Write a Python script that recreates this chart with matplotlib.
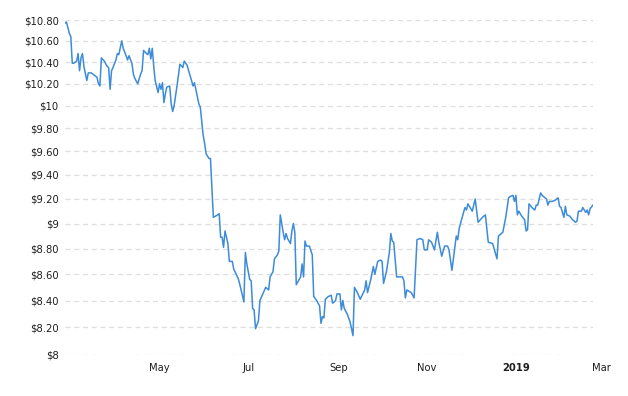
import matplotlib
matplotlib.use("Agg")
import matplotlib.pyplot as plt
import matplotlib.dates as mdates
import matplotlib.ticker as mticker
import pandas as pd

dates = [
    "2018-02-25", "2018-02-26", "2018-02-28", "2018-03-01", "2018-03-02", "2018-03-03",
    "2018-03-04", "2018-03-05", "2018-03-06", "2018-03-07", "2018-03-08", "2018-03-09",
    "2018-03-10", "2018-03-12", "2018-03-13", "2018-03-15", "2018-03-17", "2018-03-19",
    "2018-03-20", "2018-03-21", "2018-03-22", "2018-03-24", "2018-03-26", "2018-03-27",
    "2018-03-28", "2018-03-29", "2018-03-30", "2018-04-01", "2018-04-02", "2018-04-03",
    "2018-04-05", "2018-04-06", "2018-04-08", "2018-04-09", "2018-04-10", "2018-04-12",
    "2018-04-13", "2018-04-14", "2018-04-16", "2018-04-18", "2018-04-19", "2018-04-20",
    "2018-04-22", "2018-04-23", "2018-04-24", "2018-04-25", "2018-04-26", "2018-04-27",
    "2018-04-28", "2018-04-30", "2018-05-01", "2018-05-02", "2018-05-03", "2018-05-04",
    "2018-05-05", "2018-05-06", "2018-05-08", "2018-05-09", "2018-05-10", "2018-05-11",
    "2018-05-13", "2018-05-15", "2018-05-17", "2018-05-18", "2018-05-20", "2018-05-21",
    "2018-05-23", "2018-05-24", "2018-05-25", "2018-05-27", "2018-05-28", "2018-05-29",
    "2018-05-31", "2018-06-01", "2018-06-02", "2018-06-04", "2018-06-05", "2018-06-07",
    "2018-06-10", "2018-06-11", "2018-06-12", "2018-06-13", "2018-06-14", "2018-06-15",
    "2018-06-17", "2018-06-18", "2018-06-20", "2018-06-21", "2018-06-24", "2018-06-25",
    "2018-06-28", "2018-06-29", "2018-06-30", "2018-07-02", "2018-07-03", "2018-07-04",
    "2018-07-05", "2018-07-06", "2018-07-08", "2018-07-09", "2018-07-11", "2018-07-13",
    "2018-07-14", "2018-07-15", "2018-07-16", "2018-07-18", "2018-07-19", "2018-07-21",
    "2018-07-22", "2018-07-23", "2018-07-25", "2018-07-26", "2018-07-27", "2018-07-28",
    "2018-07-30", "2018-07-31", "2018-08-01", "2018-08-02", "2018-08-03", "2018-08-04",
    "2018-08-06", "2018-08-07", "2018-08-08", "2018-08-09", "2018-08-10", "2018-08-11",
    "2018-08-12", "2018-08-14", "2018-08-15", "2018-08-17", "2018-08-19", "2018-08-20",
    "2018-08-21", "2018-08-22", "2018-08-23", "2018-08-25", "2018-08-27", "2018-08-28",
    "2018-08-30", "2018-08-31", "2018-09-02", "2018-09-03", "2018-09-04", "2018-09-05",
    "2018-09-07", "2018-09-09", "2018-09-11", "2018-09-12", "2018-09-14", "2018-09-16",
    "2018-09-19", "2018-09-20", "2018-09-21", "2018-09-23", "2018-09-25", "2018-09-26",
    "2018-09-28", "2018-09-30", "2018-10-01", "2018-10-02", "2018-10-04", "2018-10-06",
    "2018-10-07", "2018-10-08", "2018-10-09", "2018-10-11", "2018-10-13", "2018-10-15",
    "2018-10-16", "2018-10-17", "2018-10-18", "2018-10-21", "2018-10-23", "2018-10-25",
    "2018-10-27", "2018-10-29", "2018-10-30", "2018-11-01", "2018-11-02", "2018-11-04",
    "2018-11-06", "2018-11-08", "2018-11-09", "2018-11-11", "2018-11-13", "2018-11-15",
    "2018-11-16", "2018-11-18", "2018-11-21", "2018-11-22", "2018-11-23", "2018-11-26",
    "2018-11-27", "2018-11-28", "2018-11-29", "2018-12-01", "2018-12-02", "2018-12-04",
    "2018-12-06", "2018-12-09", "2018-12-11", "2018-12-13", "2018-12-16", "2018-12-19",
    "2018-12-20", "2018-12-23", "2018-12-25", "2018-12-27", "2018-12-28", "2018-12-30",
    "2018-12-31", "2019-01-01", "2019-01-02", "2019-01-03", "2019-01-05", "2019-01-07",
    "2019-01-08", "2019-01-09", "2019-01-10", "2019-01-12", "2019-01-14", "2019-01-15",
    "2019-01-16", "2019-01-18", "2019-01-19", "2019-01-20", "2019-01-22", "2019-01-23",
    "2019-01-24", "2019-01-26", "2019-01-28", "2019-01-30", "2019-01-31", "2019-02-01",
    "2019-02-02", "2019-02-03", "2019-02-04", "2019-02-05", "2019-02-07", "2019-02-09",
    "2019-02-11", "2019-02-12", "2019-02-13", "2019-02-15", "2019-02-16", "2019-02-18",
    "2019-02-19", "2019-02-20", "2019-02-21", "2019-02-23",
]

prices = [
    10.77, 10.78, 10.67, 10.64, 10.39, 10.39,
    10.40, 10.41, 10.48, 10.32, 10.44, 10.48,
    10.36, 10.23, 10.30, 10.30, 10.28, 10.26,
    10.20, 10.18, 10.44, 10.41, 10.36, 10.35,
    10.15, 10.32, 10.35, 10.42, 10.48, 10.47,
    10.60, 10.53, 10.46, 10.42, 10.46, 10.39,
    10.29, 10.25, 10.20, 10.29, 10.32, 10.51,
    10.48, 10.47, 10.53, 10.43, 10.53, 10.36,
    10.23, 10.12, 10.20, 10.15, 10.21, 10.03,
    10.11, 10.17, 10.18, 10.02, 9.95, 10.00,
    10.18, 10.38, 10.35, 10.41, 10.37, 10.32,
    10.23, 10.18, 10.21, 10.08, 10.02, 9.99,
    9.74, 9.67, 9.58, 9.54, 9.54, 9.05,
    9.07, 9.08, 8.89, 8.89, 8.81, 8.94,
    8.84, 8.70, 8.70, 8.64, 8.57, 8.53,
    8.39, 8.77, 8.68, 8.56, 8.55, 8.34,
    8.33, 8.19, 8.25, 8.40, 8.45, 8.50,
    8.49, 8.48, 8.58, 8.62, 8.72, 8.75,
    8.78, 9.07, 8.93, 8.87, 8.92, 8.88,
    8.84, 8.94, 9.00, 8.93, 8.52, 8.54,
    8.58, 8.68, 8.58, 8.86, 8.82, 8.82,
    8.82, 8.75, 8.43, 8.40, 8.36, 8.23,
    8.28, 8.27, 8.41, 8.43, 8.44, 8.38,
    8.40, 8.45, 8.45, 8.33, 8.40, 8.34,
    8.30, 8.24, 8.14, 8.50, 8.46, 8.41,
    8.48, 8.55, 8.46, 8.55, 8.66, 8.60,
    8.70, 8.71, 8.70, 8.53, 8.62, 8.77,
    8.92, 8.86, 8.85, 8.58, 8.58, 8.58,
    8.55, 8.42, 8.48, 8.46, 8.42, 8.87,
    8.88, 8.87, 8.79, 8.79, 8.87, 8.85,
    8.79, 8.93, 8.85, 8.74, 8.82, 8.82,
    8.79, 8.63, 8.90, 8.87, 8.96, 9.09,
    9.13, 9.11, 9.16, 9.12, 9.10, 9.20,
    9.01, 9.05, 9.07, 8.85, 8.84, 8.72,
    8.90, 8.93, 9.05, 9.21, 9.22, 9.23,
    9.18, 9.23, 9.07, 9.10, 9.06, 9.03,
    8.94, 8.95, 9.16, 9.13, 9.11, 9.15,
    9.15, 9.25, 9.23, 9.22, 9.20, 9.15,
    9.18, 9.18, 9.19, 9.21, 9.14, 9.13,
    9.09, 9.05, 9.14, 9.07, 9.06, 9.03,
    9.01, 9.02, 9.10, 9.10, 9.13, 9.09,
    9.11, 9.07, 9.12, 9.15,
]

y_ticks = [8.0, 8.2, 8.4, 8.6, 8.8, 9.0, 9.2, 9.4, 9.6, 9.8, 10.0, 10.2, 10.4, 10.6, 10.8]
x_tick_dates = ["2018-05-01", "2018-07-01", "2018-09-01", "2018-11-01", "2019-01-01"]
x_tick_labels = ["May", "Jul", "Sep", "Nov", "2019"]
extra_tick_date = "2019-03-01"
extra_tick_label = "Mar"

FS = 7.2
TXT = "#1e1e1e"

x = pd.to_datetime(dates)

fig = plt.figure(figsize=(6.28, 3.96), dpi=100)
ax = fig.add_axes([65 / 628, 1 - 355 / 396, (593 - 65) / 628, (355 - 20) / 396])

ax.plot(x, prices, color="#3d8bd9", linewidth=1.1, solid_joinstyle="round")

ax.set_yscale("log")
ax.set_ylim(8.0, 10.8)
ax.set_xlim(x.min(), x.max())

ax.yaxis.set_major_locator(mticker.FixedLocator(y_ticks))
ax.yaxis.set_minor_locator(mticker.NullLocator())


def fmt(v, pos=None):
    if abs(v - round(v)) < 1e-6:
        return "$%d" % round(v)
    return "$%.2f" % v


ax.yaxis.set_major_formatter(mticker.FuncFormatter(fmt))

xt = pd.to_datetime(x_tick_dates)
ax.set_xticks(xt)
ax.set_xticklabels(x_tick_labels)
ax.xaxis.set_minor_locator(mticker.NullLocator())
for lbl in ax.get_xticklabels():
    if lbl.get_text() == "2019":
        lbl.set_fontweight("bold")

ax.text(mdates.date2num(pd.Timestamp(extra_tick_date)), 0, extra_tick_label,
        transform=ax.get_xaxis_transform(), ha="center", va="top",
        fontsize=FS, color=TXT, clip_on=False)

ax.tick_params(axis="both", length=0, labelsize=FS, labelcolor=TXT)
ax.tick_params(axis="y", pad=4.5)
ax.tick_params(axis="x", pad=6)

# offset the extra label to match the tick label pad
import matplotlib.transforms as mtransforms
for t in ax.texts:
    t.set_transform(ax.get_xaxis_transform() +
                    mtransforms.ScaledTranslation(0, -6 / 72, fig.dpi_scale_trans))

ax.grid(axis="y", color="#dedede", linestyle=(0, (4, 3)), linewidth=0.9)
ax.grid(axis="x", visible=False)
ax.set_axisbelow(True)
for s in ax.spines.values():
    s.set_visible(False)

fig.savefig("out.png", dpi=100)
